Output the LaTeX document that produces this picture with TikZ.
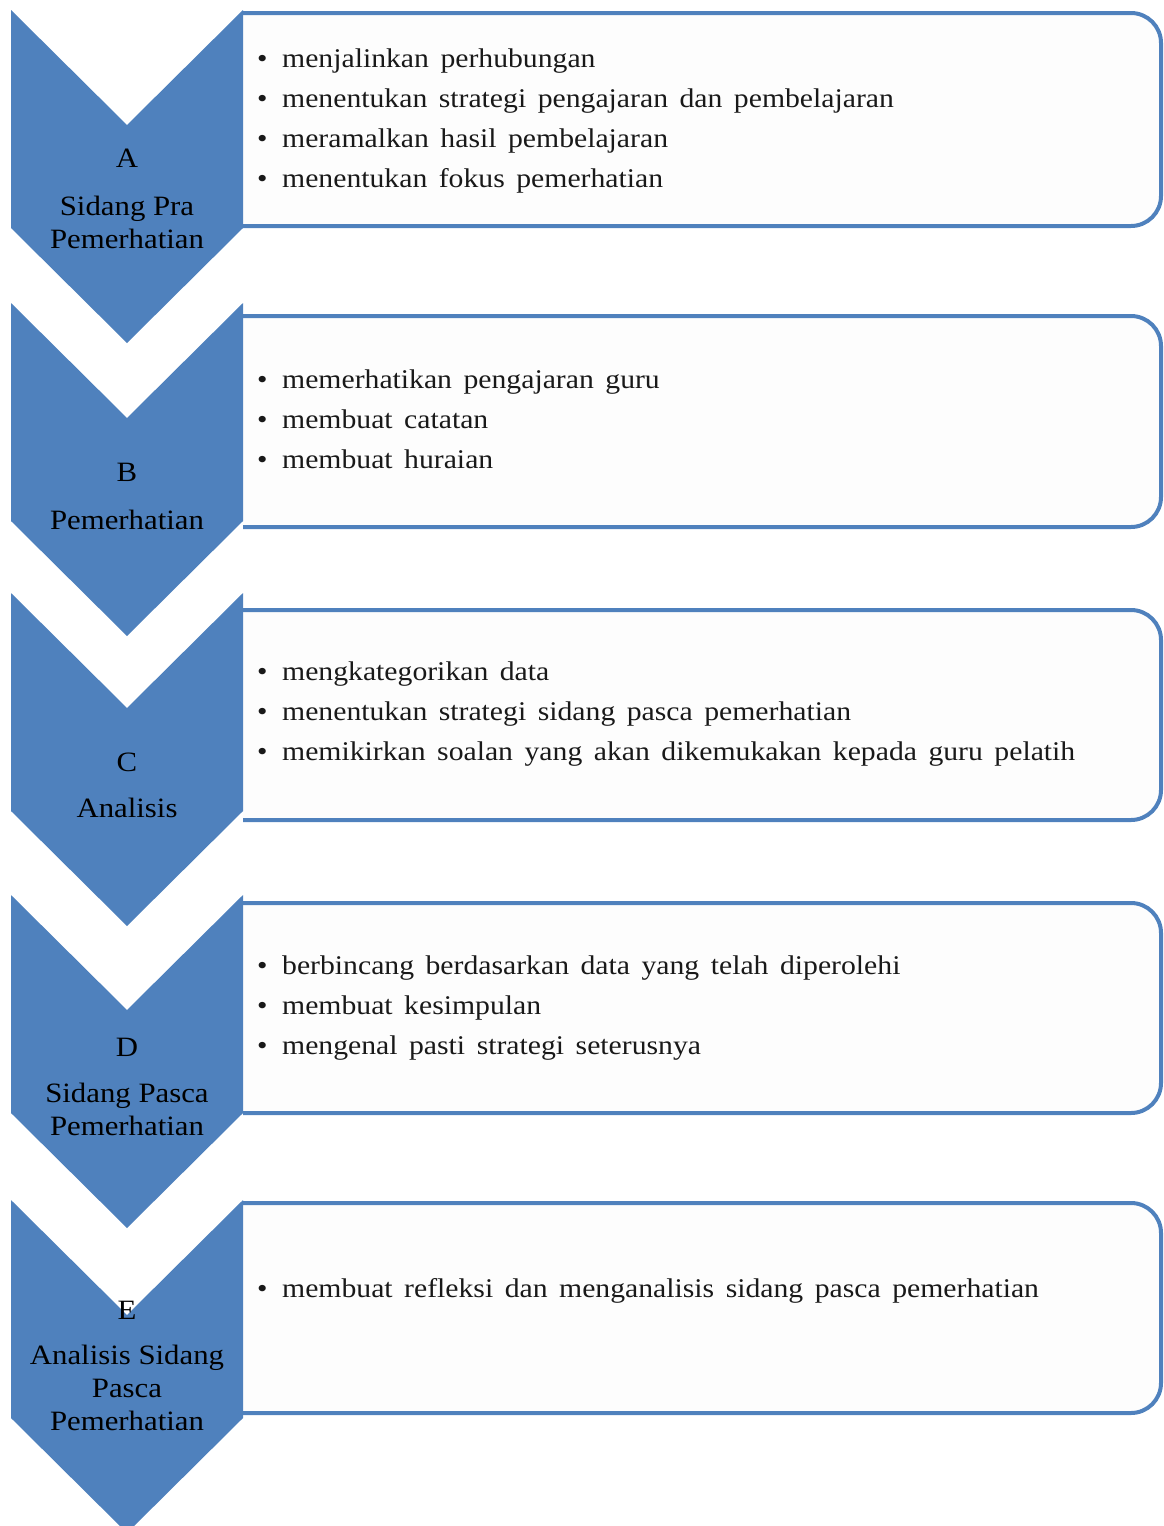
\documentclass[tikz,border=0pt]{standalone}
\usepackage{fontspec}
\setmainfont[FakeStretch=1.1]{Liberation Serif}
\usetikzlibrary{positioning}
\definecolor{chevblue}{HTML}{4F81BD}
\definecolor{boxfill}{HTML}{FDFDFD}
\newcommand{\bul}{\makebox[25pt][l]{\textbullet}}
\newcommand{\listfont}{\fontsize{27}{40}\selectfont\spaceskip 11.5pt\relax}

\begin{document}
\begin{tikzpicture}[
      x=1pt, y=-1pt,
      chev/.style={fill=chevblue},
      frame/.style={draw=chevblue, line width=4pt, fill=boxfill, rounded corners=30pt},
      lbl/.style={align=center, font=\fontsize{28}{33}\selectfont, text=black},
      lst/.style={anchor=west, align=left, inner sep=0pt,
                  font=\listfont, text=black!90}
    ]
    \useasboundingbox (0,0) rectangle (1163,1526);

    % --- Frames on the right ---
    \filldraw[frame] (243,13)   -- (1161,13)   -- (1161,226)  -- (243,226);
    \filldraw[frame] (243,316)  -- (1161,316)  -- (1161,527)  -- (243,527);
    \filldraw[frame] (243,610)  -- (1161,610)  -- (1161,820)  -- (243,820);
    \filldraw[frame] (243,903)  -- (1161,903)  -- (1161,1113) -- (243,1113);
    \filldraw[frame] (243,1203) -- (1161,1203) -- (1161,1413) -- (243,1413);

    % --- Chevrons ---
    \fill[chev] (11,10)   -- (127,125)  -- (243,10)   -- (243,228)  -- (127,343)  -- (11,228)  -- cycle;
    \fill[chev] (11,303)  -- (127,418)  -- (243,303)  -- (243,521)  -- (127,636)  -- (11,521)  -- cycle;
    \fill[chev] (11,593)  -- (127,708)  -- (243,593)  -- (243,811)  -- (127,926)  -- (11,811)  -- cycle;
    \fill[chev] (11,895)  -- (127,1010) -- (243,895)  -- (243,1113) -- (127,1228) -- (11,1113) -- cycle;
    \fill[chev] (11,1200) -- (127,1315) -- (243,1200) -- (243,1418) -- (127,1533) -- (11,1418) -- cycle;

    % --- Stage labels ---
    \node[lbl] (letA) at (127,158)  {A};
    \node[lbl] (nameA) at (127,222) {Sidang Pra\\Pemerhatian};
    \node[lbl] (letB) at (127,472)  {B};
    \node[lbl] (nameB) at (127,520) {Pemerhatian};
    \node[lbl] (letC) at (127,762)  {C};
    \node[lbl] (nameC) at (127,808) {Analisis};
    \node[lbl] (letD) at (127,1047) {D};
    \node[lbl] (nameD) at (127,1109) {Sidang Pasca\\Pemerhatian};
    \node[lbl] (letE) at (127,1310) {E};
    \node[lbl] (nameE) at (127,1388) {Analisis Sidang\\Pasca\\Pemerhatian};

    % --- Activities ---
    \node[lst] (listA) at (257,121.5) {\bul menjalinkan perhubungan\\
      \bul menentukan strategi pengajaran dan pembelajaran\\
      \bul meramalkan hasil pembelajaran\\
      \bul menentukan fokus pemerhatian};
    \node[lst] (listB) at (257,419.5) {\bul memerhatikan pengajaran guru\\
      \bul membuat catatan\\
      \bul membuat huraian};
    \node[lst] (listC) at (257,714.5) {\bul mengkategorikan data\\
      \bul menentukan strategi sidang pasca pemerhatian\\
      \bul memikirkan soalan yang akan dikemukakan kepada guru pelatih};
    \node[lst] (listD) at (257,1008.5) {\bul berbincang berdasarkan data yang telah diperolehi\\
      \bul membuat kesimpulan\\
      \bul mengenal pasti strategi seterusnya};
    \node[lst] (listE) at (257,1290.5) {\bul membuat refleksi dan menganalisis sidang pasca pemerhatian};

  \end{tikzpicture}
\end{document}
